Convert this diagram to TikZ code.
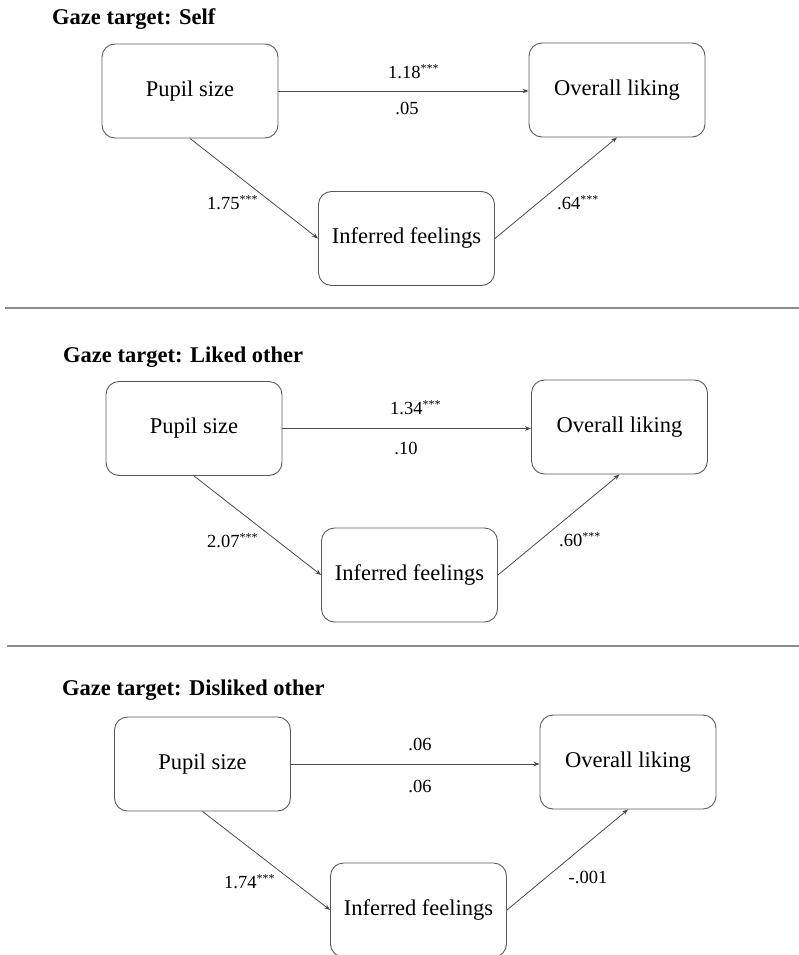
\documentclass[tikz,border=0pt]{standalone}
\usepackage{fontspec}
\setmainfont{Liberation Serif}
\usetikzlibrary{arrows.meta}
\definecolor{boxgray}{HTML}{5A5A5A}
\definecolor{linegray}{HTML}{4A4A4A}
\definecolor{sepgray}{HTML}{8C8C8C}
\begin{document}
\begin{tikzpicture}[x=1pt,y=-1pt,
  box/.style={draw=boxgray, line width=0.9pt, rounded corners=13pt, minimum width=176pt, minimum height=94pt, inner sep=0pt, font=\fontsize{22.5}{26}\selectfont},
  conn/.style={draw=linegray, line width=0.8pt, -{Stealth[length=6pt,width=4.5pt]}},
  coef/.style={font=\fontsize{18.5}{22}\selectfont, inner sep=0pt, anchor=west},
  coefc/.style={font=\fontsize{18.5}{22}\selectfont, inner sep=0pt, anchor=center},
  ttl/.style={font=\bfseries\fontsize{22.5}{26}\selectfont, inner sep=0pt, anchor=base west},
  sepline/.style={draw=sepgray, line width=1.5pt}]
\useasboundingbox (0,0) rectangle (799,955);
\clip (0,0) rectangle (799,955);
\newcommand{\sig}{\textsuperscript{\fontsize{12}{12}\selectfont ***}}

% ---------- Panel 1 ----------
\node[ttl] (t1) at (52,25) {Gaze target: Self};
\node[box] (P1) at (190,91) {Pupil size};
\node[box] (O1) at (617,90) {Overall liking};
\node[box] (I1) at (406.5,238.5) {Inferred feelings};
\draw[conn] (P1.east) -- (P1.east -| O1.west);
\draw[conn] (P1.south) -- (I1.west);
\draw[conn] (I1.east) -- (O1.south);
\node[coef] (a1) at (388,72) {1.18\sig};
\node[coefc] (c1) at (407,108) {.05};
\node[coef] (b1) at (207,203) {1.75\sig};
\node[coef] (d1) at (557,203) {.64\sig};

\draw[sepline] (5,308) -- (799,308);

% ---------- Panel 2 ----------
\node[ttl] (t2) at (63,362) {Gaze target: Liked other};
\node[box] (P2) at (194,428.5) {Pupil size};
\node[box] (O2) at (619.5,427) {Overall liking};
\node[box] (I2) at (409.5,575) {Inferred feelings};
\draw[conn] (P2.east) -- (P2.east -| O2.west);
\draw[conn] (P2.south) -- (I2.west);
\draw[conn] (I2.east) -- (O2.south);
\node[coef] (a2) at (390,408) {1.34\sig};
\node[coefc] (c2) at (406,448) {.10};
\node[coef] (b2) at (207,541) {2.07\sig};
\node[coef] (d2) at (559,540) {.60\sig};

\draw[sepline] (7,646) -- (799,646);

% ---------- Panel 3 ----------
\node[ttl] (t3) at (62,695) {Gaze target: Disliked other};
\node[box] (P3) at (202.5,764) {Pupil size};
\node[box] (O3) at (628,762) {Overall liking};
\node[box] (I3) at (418.5,910) {Inferred feelings};
\draw[conn] (P3.east) -- (P3.east -| O3.west);
\draw[conn] (P3.south) -- (I3.west);
\draw[conn] (I3.east) -- (O3.south);
\node[coefc] (a3) at (420,744) {.06};
\node[coefc] (c3) at (420,786) {.06};
\node[coef] (b3) at (224,882) {1.74\sig};
\node[coefc] (d3) at (588,877) {-.001};
\end{tikzpicture}
\end{document}
